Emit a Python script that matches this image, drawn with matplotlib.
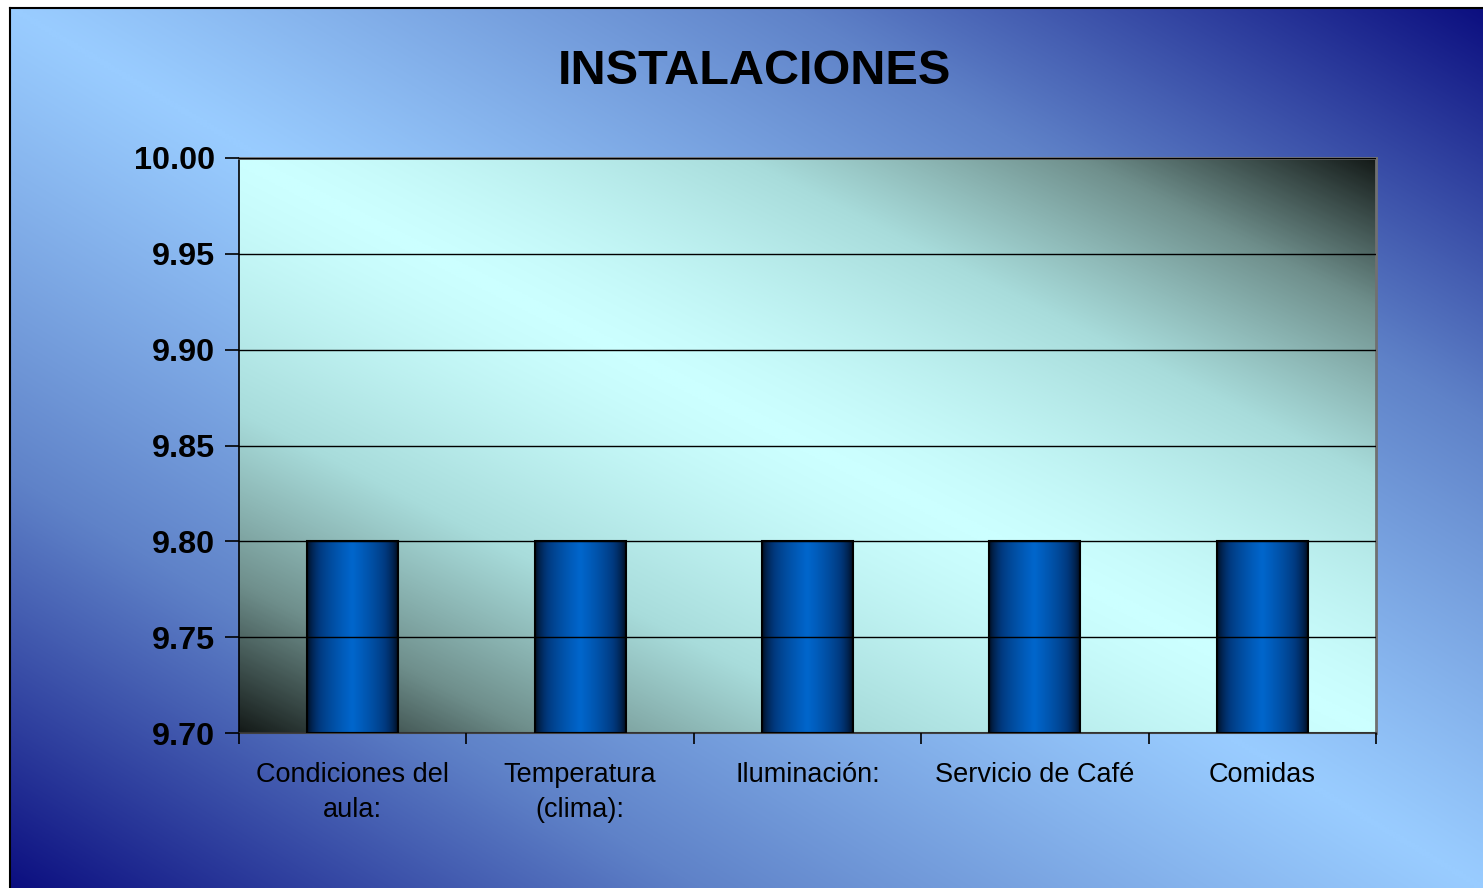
import matplotlib

matplotlib.use("Agg")

import matplotlib.pyplot as plt
import numpy as np
from matplotlib.colors import LinearSegmentedColormap
from matplotlib.patches import Rectangle

plt.rcParams["font.family"] = ["Liberation Sans", "DejaVu Sans"]

TITLE = "INSTALACIONES"
CATEGORIES = [
    "Condiciones del\naula:",
    "Temperatura\n(clima):",
    "Iluminación:",
    "Servicio de Café",
    "Comidas",
]
SCORES = [9.80, 9.80, 9.80, 9.80, 9.80]
Y_MIN, Y_MAX, Y_STEP = 9.70, 10.00, 0.05

W, H, DPI = 1483, 888, 100


def diagonal_gradient(n=400, power=1.0):
    # light along the top-left/bottom-right diagonal, dark toward the other corners
    u = np.linspace(0, 1, n)
    v = np.linspace(0, 1, n)
    uu, vv = np.meshgrid(u, v)
    return np.abs(uu - vv) ** power


fig = plt.figure(figsize=(W / DPI, H / DPI), dpi=DPI)
fig.patch.set_facecolor("white")

# page background with its frame
bg = fig.add_axes([10 / W, 0, 1 - 10 / W, 1 - 8 / H], zorder=-10)
bg_cmap = LinearSegmentedColormap.from_list("page", ["#99ccff", "#5f82c8", "#0c0f80"])
bg.imshow(diagonal_gradient(power=1.1), cmap=bg_cmap, aspect="auto",
          extent=(0, 1, 1, 0), interpolation="bilinear")
bg.set_xlim(0, 1)
bg.set_ylim(1, 0)
bg.set_xticks([])
bg.set_yticks([])
for side in ("right", "bottom"):
    bg.spines[side].set_visible(False)
for side in ("left", "top"):
    bg.spines[side].set_color("black")
    bg.spines[side].set_linewidth(1.5)

fig.text(754 / W, 1 - 71 / H, TITLE, ha="center", va="center",
         fontsize=35, fontweight="bold", color="black")

ax = fig.add_axes([239 / W, 1 - 733 / H, (1376 - 239) / W, (733 - 158) / H])
x = np.arange(len(CATEGORIES))
ax.set_xlim(-0.5, len(CATEGORIES) - 0.5)
ax.set_ylim(Y_MIN, Y_MAX)

plot_cmap = LinearSegmentedColormap.from_list(
    "plot", ["#ccffff", "#a8dcdb", "#6f8f8c", "#141a18"])
ax.imshow(diagonal_gradient(power=1.35), cmap=plot_cmap, aspect="auto",
          extent=(-0.5, len(CATEGORIES) - 0.5, Y_MIN, Y_MAX),
          origin="upper", interpolation="bilinear", zorder=0)

yticks = np.arange(Y_MIN, Y_MAX + Y_STEP / 2, Y_STEP)
ax.set_yticks(yticks)
ax.set_yticklabels([f"{t:.2f}" for t in yticks], fontsize=23.3, fontweight="bold")
ax.yaxis.grid(True, color="black", linewidth=1.0, zorder=1)
ax.set_axisbelow(False)

bars = ax.bar(x, [s - Y_MIN for s in SCORES], bottom=Y_MIN, width=0.40,
              facecolor="none", edgecolor="black", linewidth=1.5, zorder=3)

# horizontal shading across each bar
s = np.linspace(0, 1, 200)
shade = (1 - np.abs(2 * s - 1)) ** 0.55
bar_cmap = LinearSegmentedColormap.from_list("bar", ["#000510", "#003a80", "#0066cc"])
for bar in bars:
    x0, y0 = bar.get_x(), bar.get_y()
    img = ax.imshow(shade[np.newaxis, :], cmap=bar_cmap, aspect="auto",
                    extent=(x0, x0 + bar.get_width(), y0, y0 + bar.get_height()),
                    interpolation="bilinear", zorder=2)
    clip = Rectangle((x0, y0), bar.get_width(), bar.get_height(), transform=ax.transData)
    img.set_clip_path(clip)

ax.set_xlim(-0.5, len(CATEGORIES) - 0.5)
ax.set_ylim(Y_MIN, Y_MAX)

ax.set_xticks(x)
ax.set_xticklabels(CATEGORIES, fontsize=19.5, linespacing=1.45)
ax.set_xticks(np.arange(-0.5, len(CATEGORIES)), minor=True)
ax.tick_params(axis="x", which="major", length=0, pad=21)
ax.tick_params(axis="x", which="minor", length=8, width=1.2, color="black")
ax.tick_params(axis="y", length=10, width=1.2, pad=7, color="black")

for side in ("top", "right"):
    ax.spines[side].set_color("#707070")
    ax.spines[side].set_linewidth(2)
ax.spines["left"].set_color("black")
ax.spines["bottom"].set_color("#404040")
ax.spines["left"].set_linewidth(1.2)
ax.spines["bottom"].set_linewidth(1.5)

fig.savefig("out.png", dpi=DPI)
